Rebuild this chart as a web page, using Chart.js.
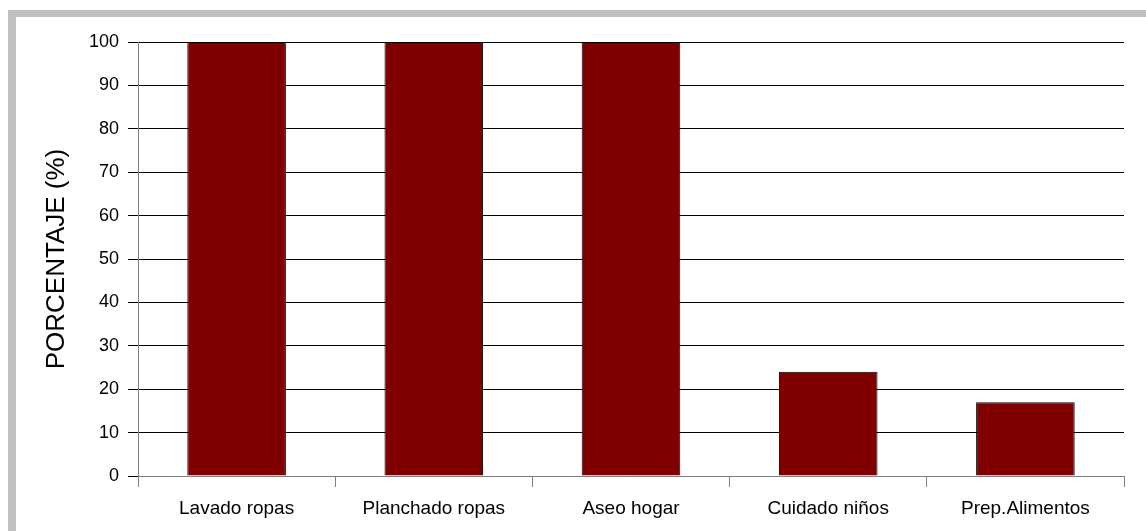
<!DOCTYPE html>
<html>
<head>
<meta charset="utf-8">
<script src="https://cdn.jsdelivr.net/npm/chart.js@4"></script>
<style>
  html, body { margin: 0; padding: 0; background: #fff; }
  #frame {
    position: absolute;
    left: 8px;
    top: 10px;
    border-left: 8px solid #c0c0c0;
    border-top: 7px solid #c0c0c0;
    width: 1130px;
    height: 514px;
  }
</style>
</head>
<body>
<div id="frame">
  <canvas id="myChart" width="1130" height="514"></canvas>
</div>
<script>
const categories = ['Lavado ropas', 'Planchado ropas', 'Aseo hogar', 'Cuidado niños', 'Prep.Alimentos'];
const percentages = [100, 100, 100, 24, 17];
const yTitle = 'PORCENTAJE (%)';

const ctx = document.getElementById('myChart').getContext('2d');
new Chart(ctx, {
  type: 'bar',
  data: {
    labels: categories,
    datasets: [
      {
        label: yTitle,
        data: percentages,
        backgroundColor: '#800000',
        borderColor: '#000000',
        borderWidth: 1,
        barPercentage: 0.5,
        categoryPercentage: 1,
      },
    ],
  },
  options: {
    responsive: false,
    animation: false,
    plugins: {
      legend: { display: false },
      tooltip: { enabled: false },
    },
    layout: {
      padding: { left: 0, right: 22, top: 25, bottom: 0 },
    },
    scales: {
      x: {
        grid: {
          offset: true,
          drawOnChartArea: false,
          tickLength: 11,
          color: '#808080',
        },
        border: { color: '#808080' },
        ticks: {
          color: '#000',
          padding: 10,
          font: { family: 'Liberation Sans, Arial', size: 19 },
          maxRotation: 0,
        },
        afterFit: (scale) => { scale.height = 55; },
      },
      y: {
        min: 0,
        max: 100,
        ticks: {
          stepSize: 10,
          color: '#000',
          padding: 9,
          font: { family: 'Liberation Sans, Arial', size: 18 },
        },
        grid: {
          color: '#000',
          tickLength: 10,
        },
        border: { color: '#808080' },
        title: {
          display: true,
          text: yTitle,
          color: '#000',
          font: { family: 'Liberation Sans, Arial', size: 26 },
          padding: { top: 25, bottom: 0 },
        },
        afterFit: (scale) => { scale.width = 122; },
      },
    },
  },
});
</script>
</body>
</html>
